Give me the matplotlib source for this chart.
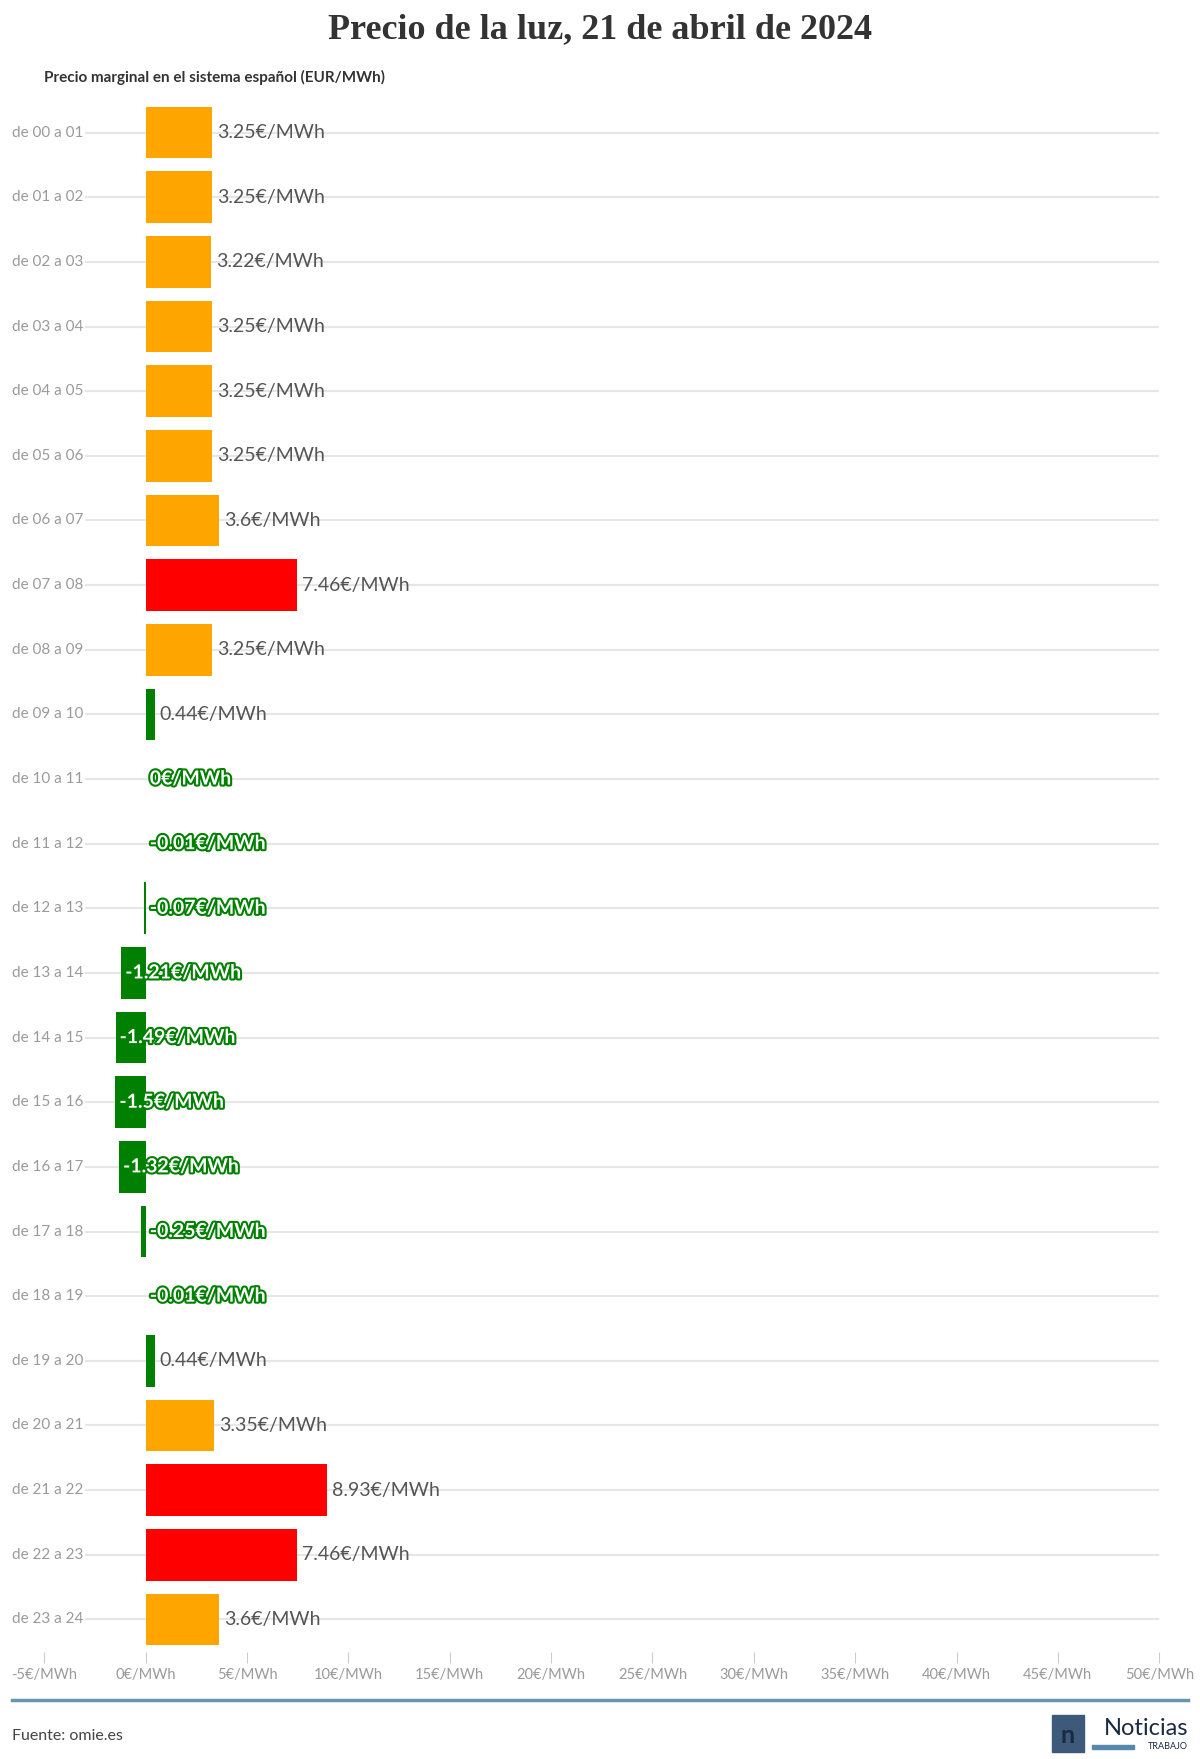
import matplotlib
matplotlib.use('Agg')
import matplotlib.pyplot as plt
import matplotlib.patheffects as pe
from matplotlib.patches import Rectangle
from matplotlib.ticker import FuncFormatter
from matplotlib.transforms import blended_transform_factory

plt.rcParams['font.family'] = ['Lato', 'DejaVu Sans']

hours = ["de %02d a %02d" % (h, h + 1) for h in range(24)]
prices = [3.25, 3.25, 3.22, 3.25, 3.25, 3.25, 3.6, 7.46, 3.25, 0.44, 0.0, -0.01,
          -0.07, -1.21, -1.49, -1.5, -1.32, -0.25, -0.01, 0.44, 3.35, 8.93, 7.46, 3.6]
labels = ["3.25", "3.25", "3.22", "3.25", "3.25", "3.25", "3.6", "7.46", "3.25", "0.44", "0",
          "-0.01", "-0.07", "-1.21", "-1.49", "-1.5", "-1.32", "-0.25", "-0.01", "0.44",
          "3.35", "8.93", "7.46", "3.6"]
xticks = list(range(-5, 55, 5))


def colour(v):
    if v >= 7:
        return "#ff0000"
    if v >= 1:
        return "#ffa500"
    return "#008000"


fig = plt.figure(figsize=(12, 17.59), dpi=100)
ax = fig.add_axes([0.037, 0.061, 0.929, 0.882])
ax.set_xlim(-5, 50)
ax.set_ylim(23.5, -0.5)
y = list(range(24))
ax.hlines(y, -3.0, 50, color="#e6e6e6", lw=1.5, zorder=0)
ax.barh(y, prices, height=0.8, color=[colour(v) for v in prices], zorder=2)

lab_tr = blended_transform_factory(fig.transFigure, ax.transData)
for i, (v, lab) in enumerate(zip(prices, labels)):
    txt = lab + "€/MWh"
    if v > 0:
        ax.text(v + 0.25, i, txt, va="center", ha="left", fontsize=14, color="#555555", zorder=3)
    else:
        x0 = v + 0.2 if v < -0.5 else 0.2
        ax.text(x0, i, txt, va="center", ha="left", fontsize=14, color="white",
                fontweight="bold", zorder=3,
                path_effects=[pe.withStroke(linewidth=3, foreground="#008000")])
    ax.text(12 / 1200, i, hours[i], va="center", ha="left", fontsize=11, color="#9a9a9a",
            transform=lab_tr)

ax.set_xticks(xticks)
ax.xaxis.set_major_formatter(FuncFormatter(lambda v, p: "%d€/MWh" % v))
ax.tick_params(axis="x", colors="#cccccc", labelcolor="#9a9a9a", labelsize=10.5, length=8, pad=4)
ax.set_yticks([])
for s in ax.spines.values():
    s.set_visible(False)

fig.text(0.5, 0.983, "Precio de la luz, 21 de abril de 2024", ha="center", va="center",
         fontsize=26, fontweight="bold", color="#333333", family=["Liberation Serif"])
fig.text(0.037, 0.956, "Precio marginal en el sistema español (EUR/MWh)", ha="left", va="center",
         fontsize=11, fontweight="bold", color="#333333")
fig.add_artist(plt.Line2D([0.01, 0.99], [0.0335, 0.0335], color="#6a94aa", lw=2.5))
fig.text(0.01, 0.013, "Fuente: omie.es", ha="left", va="center", fontsize=11.5, color="#444444")
fig.add_artist(Rectangle((0.877, 0.004), 0.026, 0.021, color="#3d5a7a"))
fig.text(0.89, 0.0135, "n", ha="center", va="center", fontsize=18, color="#1a2a40", fontweight="bold")
fig.text(0.99, 0.0175, "Noticias", ha="right", va="center", fontsize=17, color="#1a2a40")
fig.add_artist(Rectangle((0.91, 0.0055), 0.035, 0.0025, color="#5588aa"))
fig.text(0.99, 0.007, "TRABAJO", ha="right", va="center", fontsize=6.5, color="#1a2a40")

fig.savefig("out.png", dpi=100, facecolor="white")
